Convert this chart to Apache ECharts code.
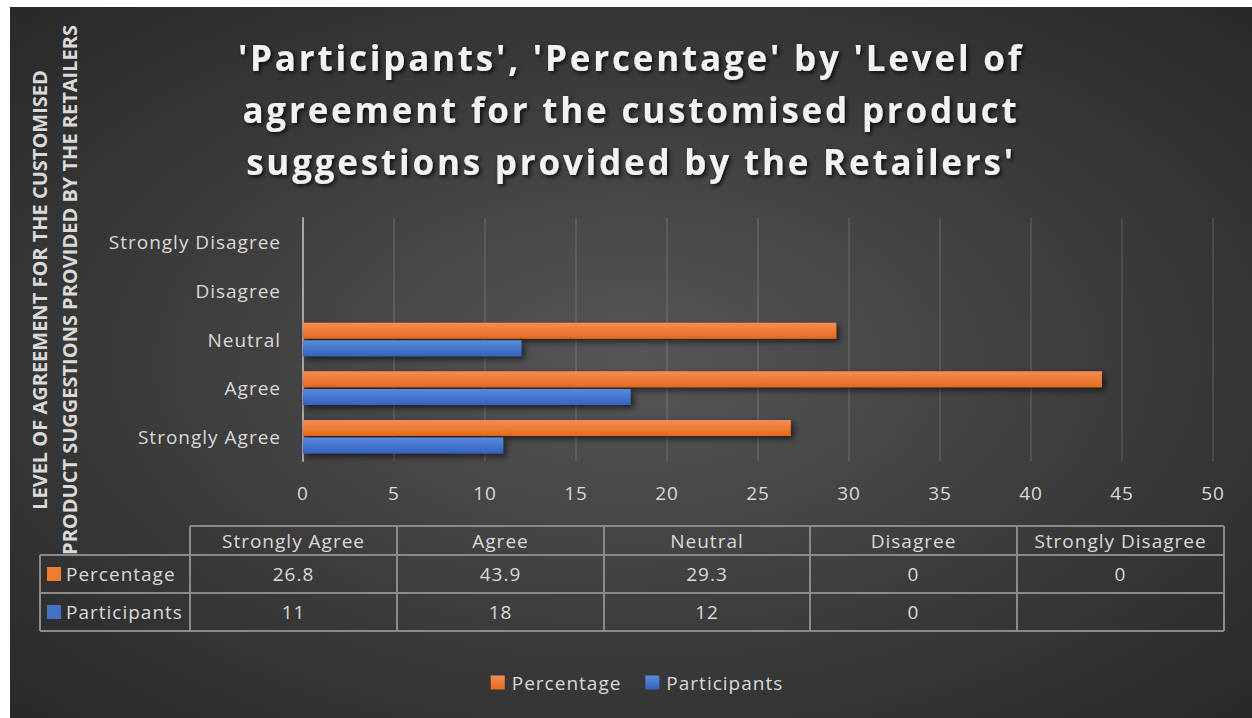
<!DOCTYPE html>
<html>
<head>
<meta charset="utf-8">
<script src="https://cdn.jsdelivr.net/npm/echarts@6/dist/echarts.min.js"></script>
<style>
  html, body { margin: 0; padding: 0; background: #ffffff; }
  #chart { position: absolute; left: 10px; top: 7px; width: 1242px; height: 711px; }
  /* spaced-out lettering for the chart heading and the body text */
  #chart svg text[style*="35px"] { letter-spacing: 2.8px; }
  #chart svg text[style*="19px"] { letter-spacing: 1px; }
</style>
</head>
<body>
<div id="chart"></div>
<script>
// Survey results: level of agreement with retailers' customised product suggestions
const categories = ['Strongly Agree', 'Agree', 'Neutral', 'Disagree', 'Strongly Disagree'];
const percentage = [26.8, 43.9, 29.3, 0, 0];
const participants = [11, 18, 12, 0, null];
const xTicks = { min: 0, max: 50, interval: 5 };

const titleText = "'Participants', 'Percentage' by 'Level of\nagreement for the customised product\nsuggestions provided by the Retailers'";
const yTitleLines = ['LEVEL OF AGREEMENT FOR THE CUSTOMISED', 'PRODUCT SUGGESTIONS PROVIDED BY THE RETAILERS'];

const ORANGE = '#ed7d31';
const BLUE = '#4472c4';
const TEXT = '#d9d9d9';
const FONT = '"Open Sans", sans-serif';

function barGradient(top, bottom) {
  return new echarts.graphic.LinearGradient(0, 0, 0, 1, [
    { offset: 0, color: top },
    { offset: 1, color: bottom }
  ]);
}

// ---- data table under the plot ----
const tableCols = [180, 387, 594, 800, 1007, 1214];  // column edges (chart coords)
const tableRows = [519, 548, 586, 624];              // row edges
const tableLeft = 30;
const lineStyle = { stroke: '#8a8a8a', lineWidth: 2 };
const tableGraphics = [];

function hLine(x1, x2, y) {
  tableGraphics.push({ type: 'line', shape: { x1, y1: y, x2, y2: y }, style: lineStyle, silent: true });
}
function vLine(x, y1, y2) {
  tableGraphics.push({ type: 'line', shape: { x1: x, y1, x2: x, y2 }, style: lineStyle, silent: true });
}
function cellText(text, cx, cy, align) {
  tableGraphics.push({
    type: 'text', x: cx, y: cy, silent: true,
    style: { text: text, fill: TEXT, font: '19px ' + FONT, align: align || 'center', verticalAlign: 'middle' }
  });
}

hLine(tableCols[0], tableCols[5], tableRows[0]);
for (let r = 1; r < tableRows.length; r++) hLine(tableLeft, tableCols[5], tableRows[r]);
vLine(tableLeft, tableRows[1], tableRows[3]);
tableCols.forEach(x => vLine(x, tableRows[0], tableRows[3]));

categories.forEach((c, i) => {
  const cx = (tableCols[i] + tableCols[i + 1]) / 2;
  cellText(c, cx, (tableRows[0] + tableRows[1]) / 2);
  cellText(String(percentage[i]), cx, (tableRows[1] + tableRows[2]) / 2);
  cellText(participants[i] == null ? '' : String(participants[i]), cx, (tableRows[2] + tableRows[3]) / 2);
});

const tableSeries = [
  { name: 'Percentage', color: ORANGE, y: (tableRows[1] + tableRows[2]) / 2 },
  { name: 'Participants', color: BLUE, y: (tableRows[2] + tableRows[3]) / 2 }
];
tableSeries.forEach(s => {
  tableGraphics.push({ type: 'rect', shape: { x: tableLeft + 7, y: s.y - 7, width: 14, height: 14 }, style: { fill: s.color }, silent: true });
  cellText(s.name, tableLeft + 26, s.y, 'left');
});

// ---- rotated axis title ----
const yTitleGraphics = yTitleLines.map((t, i) => ({
  type: 'text', x: 29 + i * 30, y: 283, rotation: Math.PI / 2, silent: true,
  style: { text: t, fill: TEXT, font: 'bold 20px ' + FONT, align: 'center', verticalAlign: 'middle' }
}));

const chart = echarts.init(document.getElementById('chart'), null, { renderer: 'svg' });

chart.setOption({
  backgroundColor: {
    type: 'radial', x: 0.5, y: 0.5, r: 0.75,
    colorStops: [
      { offset: 0, color: '#565656' },
      { offset: 0.55, color: '#3a3a3a' },
      { offset: 1, color: '#262626' }
    ]
  },
  animation: false,
  title: {
    text: titleText,
    left: 'center',
    top: 19,
    textStyle: {
      color: '#f2f2f2',
      fontFamily: FONT,
      fontWeight: 'bold',
      fontSize: 35,
      lineHeight: 52,
      textShadowColor: 'rgba(0,0,0,0.8)',
      textShadowBlur: 4,
      textShadowOffsetX: 2,
      textShadowOffsetY: 2
    }
  },
  legend: {
    data: ['Percentage', 'Participants'],
    left: 'center',
    top: 661,
    icon: 'rect',
    itemWidth: 14,
    itemHeight: 14,
    itemGap: 34,
    textStyle: { color: TEXT, fontSize: 19, fontFamily: FONT, padding: [0, 0, 0, 2] }
  },
  grid: { left: 293, right: 39, top: 211, bottom: 257, containLabel: false },
  xAxis: {
    type: 'value',
    min: xTicks.min, max: xTicks.max, interval: xTicks.interval,
    axisLine: { show: false },
    axisTick: { show: false },
    axisLabel: { color: TEXT, fontSize: 19, fontFamily: FONT, margin: 22 },
    splitLine: { show: true, lineStyle: { color: 'rgba(255,255,255,0.14)', width: 1.5 } }
  },
  yAxis: {
    type: 'category',
    data: categories,
    axisLine: { show: true, lineStyle: { color: '#a6a6a6', width: 2 } },
    axisTick: { show: false },
    axisLabel: { color: TEXT, fontSize: 19, fontFamily: FONT, margin: 22 },
    splitLine: { show: false }
  },
  series: [
    {
      name: 'Percentage', type: 'bar', data: percentage,
      barWidth: 16, barGap: '10%',
      itemStyle: {
        color: barGradient('#f58d52', '#e6691c'),
        shadowColor: 'rgba(0,0,0,0.6)', shadowBlur: 6, shadowOffsetX: 3, shadowOffsetY: 3
      }
    },
    {
      name: 'Participants', type: 'bar', data: participants,
      barWidth: 16, barGap: '10%',
      itemStyle: {
        color: barGradient('#5b8bdc', '#3463bf'),
        shadowColor: 'rgba(0,0,0,0.6)', shadowBlur: 6, shadowOffsetX: 3, shadowOffsetY: 3
      }
    }
  ],
  graphic: yTitleGraphics.concat(tableGraphics)
});
</script>
</body>
</html>
